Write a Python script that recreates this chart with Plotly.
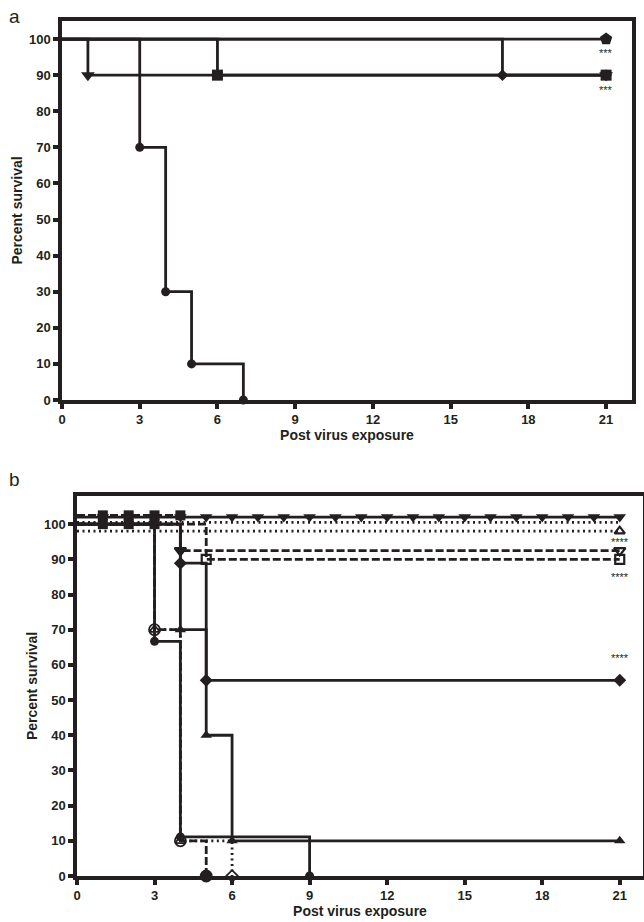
import plotly.graph_objects as go

INK = "#231f20"
FONT = "Liberation Sans, Arial, sans-serif"

# ---------------- Panel a data ----------------
a_xticks = [0, 3, 6, 9, 12, 15, 18, 21]
a_yticks = [0, 10, 20, 30, 40, 50, 60, 70, 80, 90, 100]
a_circle_x = [0, 3, 4, 5, 7]
a_circle_y = [100, 70, 30, 10, 0]
a_top_x = [0, 21]
a_top_y = [100, 100]
a_tri_x = [0, 1, 21]
a_tri_y = [100, 90, 90]
a_sq_x = [0, 6, 21]
a_sq_y = [100, 90, 90]
a_dia_x = [0, 17, 21]
a_dia_y = [100, 90, 90]
a_stars_y = [96, 86]
a_stars_text = ["***", "***"]

# ---------------- Panel b data ----------------
b_xticks = [0, 3, 6, 9, 12, 15, 18, 21]
b_yticks = [0, 10, 20, 30, 40, 50, 60, 70, 80, 90, 100]
b_tdown_x = list(range(0, 22))
b_tdown_y = [102] * 22
b_sqtop_x = [0, 1, 2, 3, 4]
b_sqtop_y = [102.5, 102.5, 102.5, 102.5, 102.5]
b_sq100_x = [0, 1, 2, 3]
b_sq100_y = [100, 100, 100, 100]
b_circle_x = [0, 3, 4, 9]
b_circle_y = [100, 66.7, 11.1, 0]
b_tri_x = [0, 4, 5, 6, 21]
b_tri_y = [100, 70, 40, 10, 10]
b_dia_x = [0, 4, 5, 21]
b_dia_y = [100, 88.9, 55.6, 55.6]
b_ocirc_x = [0, 3, 4, 5]
b_ocirc_y = [100, 70, 10, 0]
b_otri_x = [0, 3, 4, 6]
b_otri_y = [100, 70, 10, 0]
b_otritop_x = [0, 21]
b_otritop_y = [98, 98]
b_dot100_x = [0, 21]
b_dot100_y = [100.5, 100.5]
b_otdown_x = [0, 4, 21]
b_otdown_y = [100, 92.5, 92.5]
b_osq_x = [0, 5, 21]
b_osq_y = [100, 90, 90]
b_stars_y = [95, 85, 62]
b_stars_text = ["****", "****", "****"]

DASH = "8px,3px"
DOT = "2px,3.5px"
LW = 2.8

fig = go.Figure()


def add_curve(x, y, xa, ya, dash, symbol, size, mlw=0, width=LW, fill=INK):
    fig.add_trace(go.Scatter(
        x=x, y=y, mode="lines", line=dict(color=INK, width=width, dash=dash, shape="hv"),
        xaxis=xa, yaxis=ya, showlegend=False, hoverinfo="skip", cliponaxis=False))
    if symbol is not None:
        fig.add_trace(go.Scatter(
            x=x[1:], y=y[1:], mode="markers",
            marker=dict(symbol=symbol, size=size, color=fill,
                        line=dict(color=INK, width=mlw)),
            xaxis=xa, yaxis=ya, showlegend=False, hoverinfo="skip", cliponaxis=False))


# Panel a
add_curve(a_top_x, a_top_y, "x", "y", "solid", "pentagon", 13)
add_curve(a_tri_x, a_tri_y, "x", "y", "solid", "triangle-down", 12)
add_curve(a_dia_x, a_dia_y, "x", "y", "solid", "diamond", 9)
add_curve(a_sq_x, a_sq_y, "x", "y", "solid", "square", 11)
add_curve(a_circle_x, a_circle_y, "x", "y", "solid", "circle", 9)

# Panel b
add_curve(b_otritop_x, b_otritop_y, "x2", "y2", DOT, "triangle-up-open", 9, mlw=2.2)
add_curve(b_dot100_x, b_dot100_y, "x2", "y2", DOT, None, 0)
add_curve(b_osq_x, b_osq_y, "x2", "y2", DASH, "square-open", 9, mlw=2.2)
add_curve(b_otdown_x, b_otdown_y, "x2", "y2", DASH,
          ["triangle-down", "triangle-down-open"], 10, mlw=2.2)
add_curve(b_otri_x, b_otri_y, "x2", "y2", DOT,
          ["triangle-up-open", "triangle-up-open", "diamond-open"], 9, mlw=1.8)
add_curve(b_ocirc_x, b_ocirc_y, "x2", "y2", DASH,
          ["circle-open", "circle-open", "circle"], 11, mlw=1.8)
add_curve(b_circle_x, b_circle_y, "x2", "y2", "solid", "circle", 9)
add_curve(b_tri_x, b_tri_y, "x2", "y2", "solid", "triangle-up", 10)
add_curve(b_dia_x, b_dia_y, "x2", "y2", "solid", "diamond", 10)
add_curve(b_sq100_x, b_sq100_y, "x2", "y2", "solid", "square", 10)
add_curve(b_sqtop_x, b_sqtop_y, "x2", "y2", DASH, "square", 10)
add_curve(b_tdown_x, b_tdown_y, "x2", "y2", "solid", "triangle-down", 11)

W, H = 644, 922

axis_common = dict(
    showgrid=False, zeroline=False, showline=True, linecolor=INK, linewidth=3.5,
    mirror=True, ticks="outside", ticklen=5, tickwidth=3.5, tickcolor=INK,
    automargin=False,
    tickfont=dict(family=FONT, size=13, color=INK, weight="bold"),
)
title_font = dict(family=FONT, size=14, color=INK, weight="bold")

fig.update_layout(
    width=W, height=H, margin=dict(l=0, r=0, t=0, b=0, autoexpand=False),
    paper_bgcolor="white", plot_bgcolor="white",
    xaxis=dict(axis_common, domain=[62 / W, 632 / W], range=[0, 22], tickvals=a_xticks,
               anchor="y", title=dict(text="Post virus exposure", standoff=1, font=title_font)),
    yaxis=dict(axis_common, domain=[1 - 400 / H, 1 - 21 / H], range=[0, 105], tickvals=a_yticks,
               anchor="x", title=dict(text="Percent survival", standoff=4, font=title_font)),
    xaxis2=dict(axis_common, domain=[77 / W, 643 / W], range=[0, 21.9], tickvals=b_xticks,
                anchor="y2", title=dict(text="Post virus exposure", standoff=3, font=title_font)),
    yaxis2=dict(axis_common, domain=[1 - 876 / H, 1 - 496 / H], range=[0, 108], tickvals=b_yticks,
                anchor="x2", title=dict(text="Percent survival", standoff=4, font=title_font)),
)

annotations = []
for yv, t in zip(a_stars_y, a_stars_text):
    annotations.append(dict(x=21, y=yv, xref="x", yref="y", text=t, showarrow=False,
                            font=dict(family=FONT, size=11, color=INK)))
for yv, t in zip(b_stars_y, b_stars_text):
    annotations.append(dict(x=21, y=yv, xref="x2", yref="y2", text=t, showarrow=False,
                            font=dict(family=FONT, size=11, color=INK)))
annotations.append(dict(x=14 / W, y=1 - 16 / H, xref="paper", yref="paper", text="a",
                        showarrow=False, xanchor="center", yanchor="middle",
                        font=dict(family=FONT, size=19, color=INK)))
annotations.append(dict(x=14 / W, y=1 - 480 / H, xref="paper", yref="paper", text="b",
                        showarrow=False, xanchor="center", yanchor="middle",
                        font=dict(family=FONT, size=19, color=INK)))
fig.update_layout(annotations=annotations)

fig.write_html("out.html", config={"displayModeBar": False},
               post_script="document.body.style.margin='0px';document.body.style.overflow='hidden';")
